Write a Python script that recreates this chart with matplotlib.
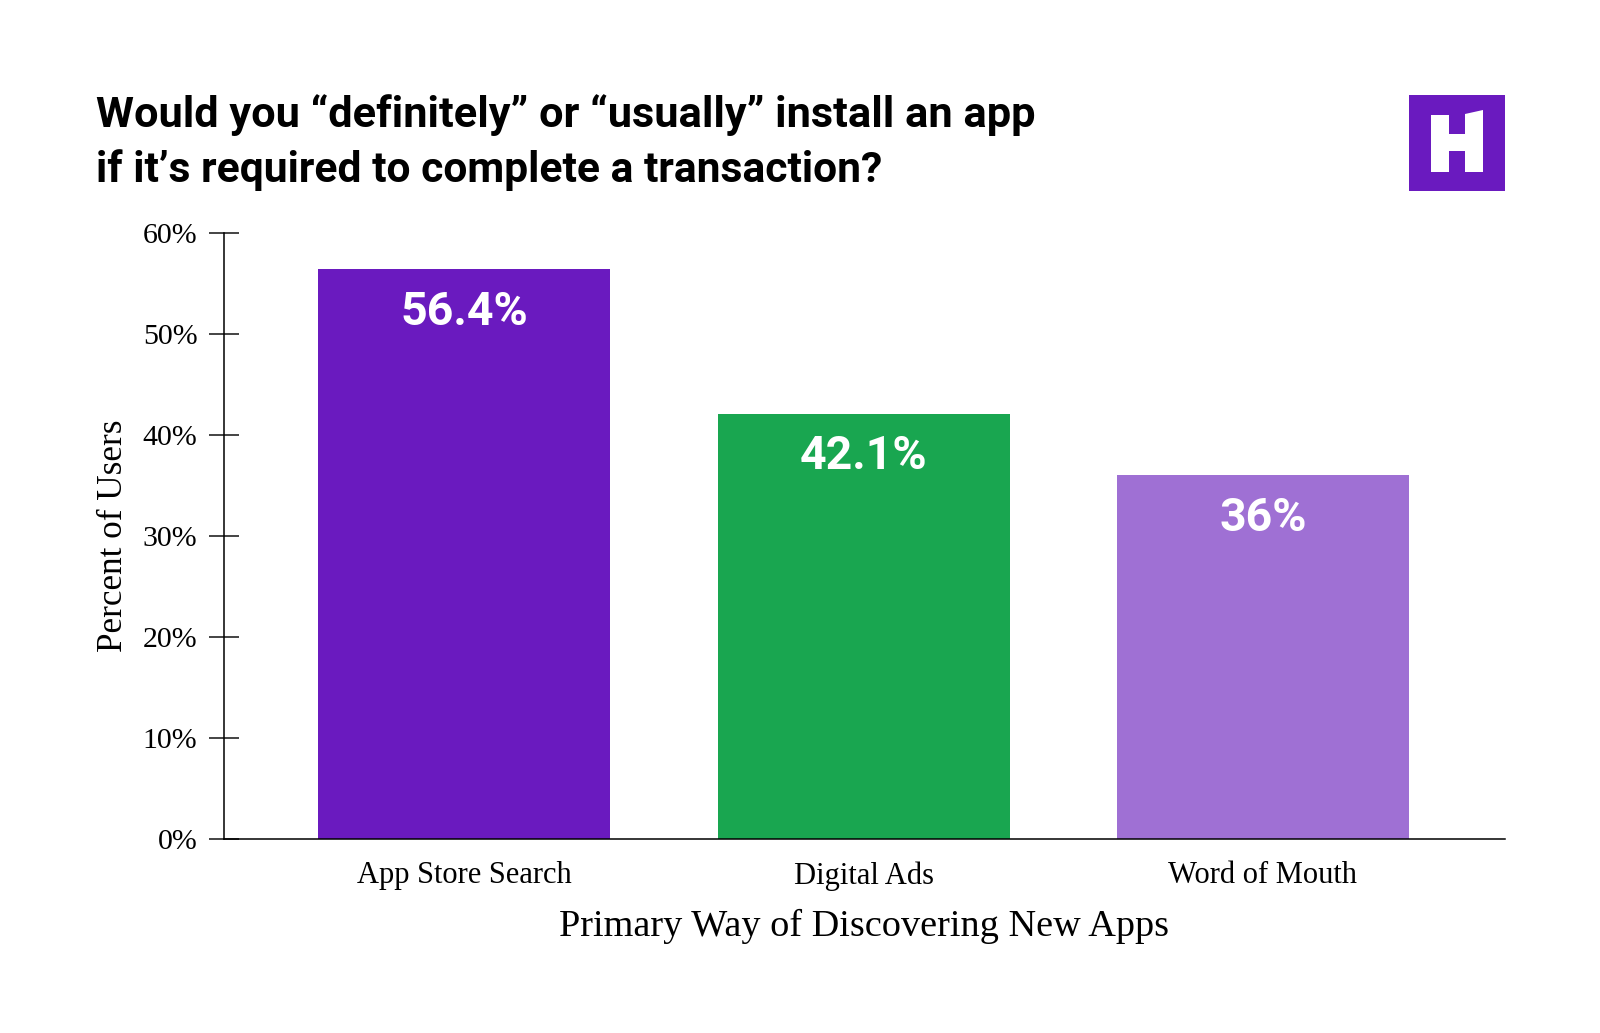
import matplotlib.pyplot as plt
from matplotlib.patches import Polygon

source_names = ["App Store Search", "Digital Ads", "Word of Mouth"]
user_percentages = [56.4, 42.1, 36]
value_labels = ["56.4%", "42.1%", "36%"]
bar_colors = ["#6a1abf", "#19a650", "#9f70d4"]
y_values = [0, 10, 20, 30, 40, 50, 60]
y_labels = ["0%", "10%", "20%", "30%", "40%", "50%", "60%"]

plt.figure(figsize=(16, 10.33), dpi=100)

plt.axes([223.5/1600, 1-839/1033, 1281.5/1600, 606/1033])
plt.bar(source_names, user_percentages, width=0.731, color=bar_colors)
plt.xlim(-0.603, 2.606)
plt.ylim(0, 60)

for i in range(len(source_names)):
    plt.text(i, user_percentages[i]-4.2, value_labels[i], color="white", ha="center", va="center",
             fontsize=33.5, fontweight="bold", family="Roboto")

plt.yticks(y_values, y_labels, fontsize=21.5, family="Liberation Serif")
plt.xticks(fontsize=22, family="Liberation Serif")
plt.tick_params(axis="y", direction="inout", length=21.6, width=1.1, pad=8, color="#111111")
plt.tick_params(axis="x", length=0, pad=16)
plt.gca().spines["top"].set_visible(False)
plt.gca().spines["right"].set_visible(False)
plt.gca().spines["left"].set_linewidth(1.1)
plt.gca().spines["bottom"].set_linewidth(1.1)
plt.xlabel("Primary Way of Discovering New Apps", fontsize=27.5, family="Liberation Serif", labelpad=13)
plt.ylabel("Percent of Users", fontsize=25.3, family="Liberation Serif", labelpad=9)

plt.figtext(96/1600, 1-115/1033, "Would you “definitely” or “usually” install an app", fontsize=31.25,
            fontweight="bold", family="Roboto", va="center")
plt.figtext(96/1600, 1-170/1033, "if it’s required to complete a transaction?", fontsize=30.7,
            fontweight="bold", family="Roboto", va="center")

# logo
plt.axes([1409/1600, 1-191/1033, 96/1600, 96/1033])
plt.xlim(1409, 1505)
plt.ylim(191, 95)
plt.gca().add_patch(plt.Rectangle((1409, 95), 96, 96, color="#6a1abf", lw=0))
plt.gca().add_patch(Polygon([(1431, 115), (1449, 115), (1449, 134), (1465, 134), (1465, 114), (1483, 110),
                             (1483, 172), (1465, 172), (1465, 151), (1449, 151), (1449, 172), (1431, 172)],
                            color="white", lw=0))
plt.axis("off")

plt.savefig("out.png", dpi=100)
